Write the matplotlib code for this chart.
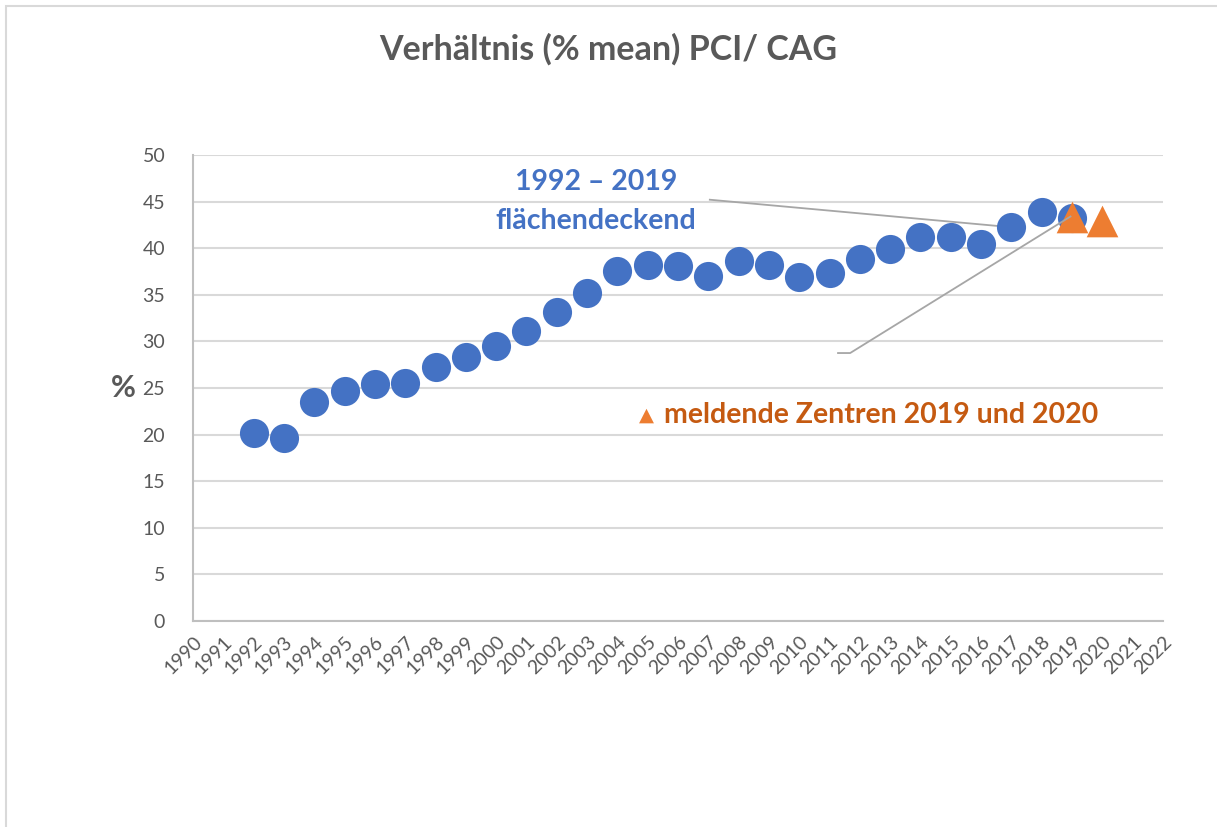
import matplotlib
matplotlib.use("Agg")
from matplotlib import pyplot as plt
from matplotlib.patches import Rectangle

plt.rcParams['font.family'] = ['Lato', 'DejaVu Sans']

# Verhältnis PCI/CAG, flächendeckend 1992-2019
years = [1992, 1993, 1994, 1995, 1996, 1997, 1998, 1999, 2000, 2001,
         2002, 2003, 2004, 2005, 2006, 2007, 2008, 2009, 2010, 2011,
         2012, 2013, 2014, 2015, 2016, 2017, 2018, 2019]
ratio = [20.2, 19.6, 23.5, 24.7, 25.4, 25.5, 27.3, 28.3, 29.5, 31.1,
         33.2, 35.2, 37.6, 38.2, 38.1, 37.0, 38.6, 38.2, 36.9, 37.3,
         38.8, 39.9, 41.2, 41.2, 40.5, 42.3, 43.9, 43.2]

# meldende Zentren
centre_years = [2019, 2020]
centre_ratio = [43.3, 42.9]

blue = '#4472C4'
orange = '#ED7D31'
grey = '#595959'

fig = plt.figure(figsize=(12.17, 8.27), dpi=100)
fig.patches.append(Rectangle((0.005, -0.01), 1.2, 1.0032, transform=fig.transFigure,
                             fill=False, edgecolor='#D9D9D9', lw=1.5))
ax = fig.add_axes([0.1586, 0.2491, 0.797, 0.5635])

ax.scatter(years, ratio, s=440, color=blue, zorder=3, linewidths=0)
ax.scatter(centre_years, centre_ratio, s=520, marker='^', color=orange, zorder=4, linewidths=0)

ax.set_xlim(1990, 2022)
ax.set_ylim(0, 50)
ax.set_xticks(range(1990, 2023))
ax.set_yticks(range(0, 51, 5))
plt.setp(ax.get_xticklabels(), rotation=45, ha='right', rotation_mode='anchor')
ax.tick_params(axis='both', length=0, labelsize=14, labelcolor=grey)
ax.tick_params(axis='x', pad=9)
ax.tick_params(axis='y', pad=20)
ax.grid(axis='y', color='#D9D9D9', lw=1.5, zorder=0)
ax.set_axisbelow(True)
for s in ['top', 'right']:
	ax.spines[s].set_visible(False)
for s in ['left', 'bottom']:
	ax.spines[s].set_color('#BFBFBF')
	ax.spines[s].set_linewidth(1.5)

ax.set_ylabel('%', rotation=0, fontsize=22, fontweight='bold', color=grey, labelpad=14, va='center')

fig.text(0.5, 0.94, 'Verhältnis (% mean) PCI/ CAG', ha='center', va='center',
         fontsize=24.5, fontweight='bold', color=grey)

# annotations
ax.text(2003.3, 47.1, '1992 – 2019', ha='center', va='center', fontsize=20.5, fontweight='bold', color=blue)
ax.text(2003.3, 42.9, 'flächendeckend', ha='center', va='center', fontsize=20.5, fontweight='bold', color=blue)
ax.plot([2007.05, 2017.0], [45.2, 42.25], color='#A6A6A6', lw=1.3, zorder=2)
ax.plot([2011.28, 2011.68, 2018.95], [28.75, 28.75, 43.4], color='#A6A6A6', lw=1.3, zorder=5)

ax.text(2004.95, 22.1, '▲', ha='center', va='center', fontsize=14, color=orange,
        family=['DejaVu Sans'])
ax.text(2005.55, 22.1, 'meldende Zentren 2019 und 2020', ha='left', va='center',
        fontsize=20.5, fontweight='bold', color='#C55A11')

plt.savefig('out.png', dpi=100)
